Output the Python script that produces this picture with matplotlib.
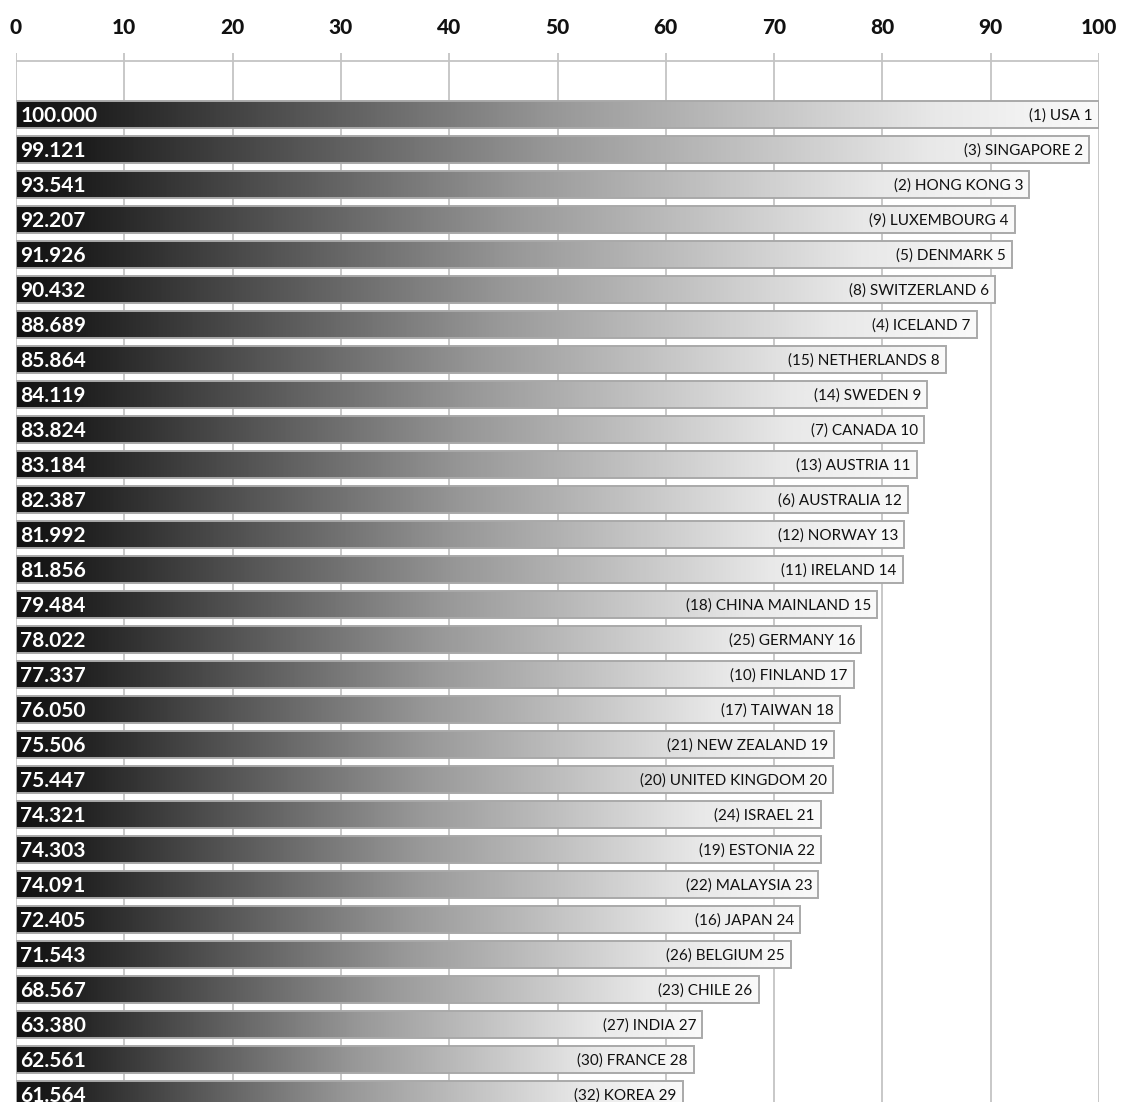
import numpy as np
import matplotlib
matplotlib.use("Agg")
import matplotlib.pyplot as plt
from matplotlib.patches import Rectangle
from matplotlib.colors import LinearSegmentedColormap

# Scores (USA = 100), country names and previous-year ranks
scores = [100.000, 99.121, 93.541, 92.207, 91.926, 90.432, 88.689, 85.864,
          84.119, 83.824, 83.184, 82.387, 81.992, 81.856, 79.484, 78.022,
          77.337, 76.050, 75.506, 75.447, 74.321, 74.303, 74.091, 72.405,
          71.543, 68.567, 63.380, 62.561, 61.564]
countries = ["USA", "SINGAPORE", "HONG KONG", "LUXEMBOURG", "DENMARK",
             "SWITZERLAND", "ICELAND", "NETHERLANDS", "SWEDEN", "CANADA",
             "AUSTRIA", "AUSTRALIA", "NORWAY", "IRELAND", "CHINA MAINLAND",
             "GERMANY", "FINLAND", "TAIWAN", "NEW ZEALAND", "UNITED KINGDOM",
             "ISRAEL", "ESTONIA", "MALAYSIA", "JAPAN", "BELGIUM", "CHILE",
             "INDIA", "FRANCE", "KOREA"]
prev_rank = [1, 3, 2, 9, 5, 8, 4, 15, 14, 7, 13, 6, 12, 11, 18, 25, 10, 17,
             21, 20, 24, 19, 22, 16, 26, 23, 27, 30, 32]
x_ticks = list(range(0, 101, 10))

W, H = 1125, 1102
fig = plt.figure(figsize=(W / 100, H / 100), dpi=100)

x0_px, x1_px = 16, 1099
top_px = 53
pitch = 35.0
first_center = 114.5
ax = fig.add_axes([x0_px / W, 0, (x1_px - x0_px) / W, 1 - top_px / H])
y_top = (top_px - first_center) / pitch
y_bot = (H - first_center) / pitch
ax.set_xlim(0, 100)
ax.set_ylim(y_bot, y_top)
ax.axis("off")

grid_c = "#c4c4c4"
for t in x_ticks:
    ax.axvline(t, color=grid_c, lw=1.3, zorder=0)
ax.axhline((61 - first_center) / pitch, color=grid_c, lw=1.3, zorder=0)

cmap = LinearSegmentedColormap.from_list(
    "bar", [(0, "#121212"), (0.06, "#1c1c1c"), (0.5, "#989898"),
            (0.85, "#e8e8e8"), (1.0, "#fafafa")])
grad = np.linspace(0, 1, 512).reshape(1, -1)

bh = 27 / pitch
font = ["Lato", "DejaVu Sans"]
for i, (v, name, pr) in enumerate(zip(scores, countries, prev_rank)):
    rect = Rectangle((0, i - bh / 2), v, bh, facecolor="none",
                     edgecolor="#a9a9a9", lw=1.4, zorder=3)
    ax.add_patch(rect)
    im = ax.imshow(grad, cmap=cmap, aspect="auto",
                   extent=[0, v, i + bh / 2, i - bh / 2], zorder=2,
                   interpolation="bilinear")
    im.set_clip_path(rect)
    ax.text(0.4, i + 0.03, f"{v:.3f}", color="white", fontsize=15,
            fontweight="bold", family=font, va="center", ha="left",
            zorder=4)
    ax.text(v - 0.55, i + 0.03, f"({pr}) {name} {i + 1}", color="#111111",
            fontsize=11, family=font, va="center", ha="right",
            zorder=4)

ax.set_ylim(y_bot, y_top)
ax.set_xlim(0, 100)

for t in x_ticks:
    fig.text((x0_px + t * (x1_px - x0_px) / 100) / W, 1 - 27 / H, str(t),
             ha="center", va="center", fontsize=15, fontweight="black",
             family=font, color="#111111")

fig.savefig("out.png", dpi=100, facecolor="white")
